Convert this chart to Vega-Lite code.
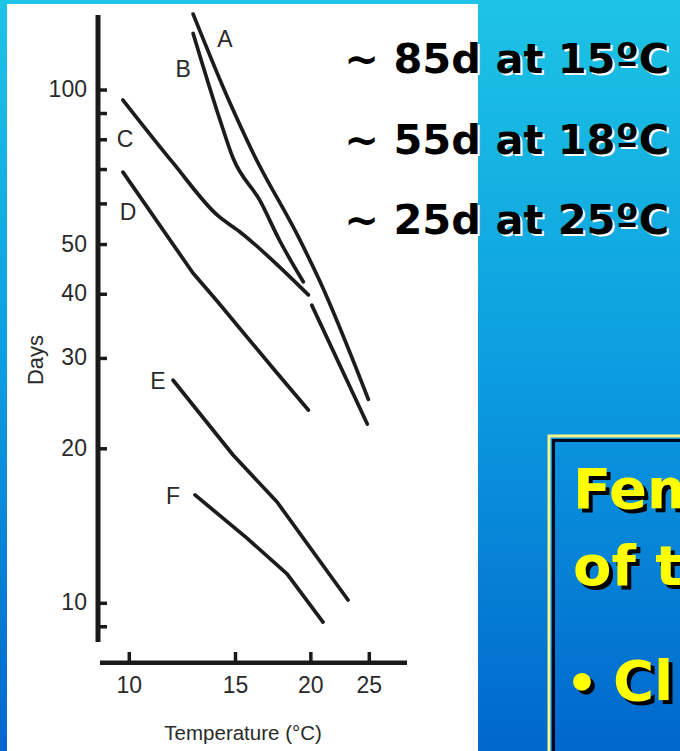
{
  "$schema": "https://vega.github.io/schema/vega-lite/v6.json",
  "width": 310,
  "height": 663,
  "padding": {"left": 98, "top": 0, "right": 272, "bottom": 88},
  "autosize": {"type": "none"},
  "background": "#ffffff",
  "config": {"view": {"stroke": null}, "axis": {"disable": true}},
  "datasets": {
    "one": [{}],
    "curves": [
      {"curve": "A", "T": 12.76, "D": 140.6},
      {"curve": "A", "T": 14.69, "D": 94.3},
      {"curve": "A", "T": 16.04, "D": 75.4},
      {"curve": "A", "T": 19.19, "D": 51.0},
      {"curve": "A", "T": 20.72, "D": 42.3},
      {"curve": "A", "T": 24.91, "D": 24.97},
      {"curve": "B", "T": 12.76, "D": 128.9},
      {"curve": "B", "T": 14.14, "D": 87.4},
      {"curve": "B", "T": 14.86, "D": 73.7},
      {"curve": "B", "T": 16.48, "D": 60.8},
      {"curve": "B", "T": 17.77, "D": 50.8},
      {"curve": "B", "T": 19.43, "D": 42.3},
      {"curve": "B (cont.)", "T": 20.07, "D": 38.1},
      {"curve": "B (cont.)", "T": 24.81, "D": 22.35},
      {"curve": "C", "T": 9.76, "D": 95.6},
      {"curve": "C", "T": 11.82, "D": 72.1},
      {"curve": "C", "T": 13.98, "D": 57.1},
      {"curve": "C", "T": 15.26, "D": 52.9},
      {"curve": "C", "T": 19.81, "D": 39.9},
      {"curve": "D", "T": 9.76, "D": 69.2},
      {"curve": "D", "T": 12.75, "D": 44.0},
      {"curve": "D", "T": 13.98, "D": 38.8},
      {"curve": "D", "T": 17.31, "D": 28.7},
      {"curve": "D", "T": 19.81, "D": 23.8},
      {"curve": "E", "T": 11.82, "D": 27.2},
      {"curve": "E", "T": 14.86, "D": 19.45},
      {"curve": "E", "T": 17.58, "D": 15.75},
      {"curve": "E", "T": 23.05, "D": 10.15},
      {"curve": "F", "T": 12.85, "D": 16.26},
      {"curve": "F", "T": 15.67, "D": 13.4},
      {"curve": "F", "T": 18.26, "D": 11.41},
      {"curve": "F", "T": 20.95, "D": 9.19}
    ],
    "letters": [
      {"label": "A", "T": 14.41, "D": 125.2},
      {"label": "B", "T": 12.28, "D": 109.4},
      {"label": "C", "T": 9.84, "D": 79.9},
      {"label": "D", "T": 9.95, "D": 57.6},
      {"label": "E", "T": 11.16, "D": 27.0},
      {"label": "F", "T": 11.82, "D": 16.11}
    ],
    "dayTicks": [
      {"value": 9, "label": ""},
      {"value": 10, "label": "10"},
      {"value": 20, "label": "20"},
      {"value": 30, "label": "30"},
      {"value": 40, "label": "40"},
      {"value": 50, "label": "50"},
      {"value": 60, "label": ""},
      {"value": 70, "label": ""},
      {"value": 80, "label": ""},
      {"value": 90, "label": ""},
      {"value": 100, "label": "100"}
    ],
    "tempTicks": [
      {"value": 10, "label": "10"},
      {"value": 15, "label": "15"},
      {"value": 20, "label": "20"},
      {"value": 25, "label": "25"}
    ]
  },
  "layer": [
    {
      "data": {"name": "one"},
      "mark": {"type": "rect", "color": {"gradient": "linear", "x1": 0, "y1": 0, "x2": 0, "y2": 1, "stops": [{"offset": 0, "color": "#1dc4e5"}, {"offset": 0.5, "color": "#0c9ce0"}, {"offset": 1, "color": "#0066cc"}]}},
      "encoding": {
        "x": {"datum": 6.0, "type": "quantitative", "scale": {"type": "log", "domain": [8.874, 28.98], "nice": false}, "axis": null},
        "x2": {"datum": 6.27},
        "y": {"datum": 152, "type": "quantitative", "scale": {"type": "log", "domain": [7.65, 149.76], "nice": false}, "axis": null},
        "y2": {"datum": 5.0}
      }
    },
    {
      "data": {"name": "one"},
      "mark": {"type": "rect", "color": "#1dc4e5"},
      "encoding": {
        "x": {"datum": 6.0, "type": "quantitative", "scale": {"type": "log", "domain": [8.874, 28.98], "nice": false}, "axis": null},
        "x2": {"datum": 90},
        "y": {"datum": 152, "type": "quantitative", "scale": {"type": "log", "domain": [7.65, 149.76], "nice": false}, "axis": null},
        "y2": {"datum": 147.1}
      }
    },
    {
      "data": {"name": "one"},
      "mark": {"type": "rect", "color": {"gradient": "linear", "x1": 0, "y1": 0, "x2": 0, "y2": 1, "stops": [{"offset": 0, "color": "#1dc4e5"}, {"offset": 0.5, "color": "#0c9ce0"}, {"offset": 1, "color": "#0066cc"}]}},
      "encoding": {
        "x": {"datum": 37.86, "type": "quantitative", "scale": {"type": "log", "domain": [8.874, 28.98], "nice": false}, "axis": null},
        "x2": {"datum": 90},
        "y": {"datum": 152, "type": "quantitative", "scale": {"type": "log", "domain": [7.65, 149.76], "nice": false}, "axis": null},
        "y2": {"datum": 5.0}
      }
    },
    {
      "data": {"name": "one"},
      "mark": {"type": "rule", "color": "#1a1a1a", "strokeWidth": 5},
      "encoding": {
        "x": {"datum": 8.874, "type": "quantitative", "scale": {"type": "log", "domain": [8.874, 28.98], "nice": false}, "axis": null},
        "y": {"datum": 140.0, "type": "quantitative", "scale": {"type": "log", "domain": [7.65, 149.76], "nice": false}, "axis": null},
        "y2": {"datum": 8.406}
      }
    },
    {
      "data": {"name": "one"},
      "mark": {"type": "rule", "color": "#1a1a1a", "strokeWidth": 4.5},
      "encoding": {
        "x": {"datum": 8.94, "type": "quantitative", "scale": {"type": "log", "domain": [8.874, 28.98], "nice": false}, "axis": null},
        "x2": {"datum": 28.87},
        "y": {"datum": 7.66, "type": "quantitative", "scale": {"type": "log", "domain": [7.65, 149.76], "nice": false}, "axis": null}
      }
    },
    {
      "data": {"name": "dayTicks"},
      "mark": {"type": "rule", "color": "#1a1a1a", "strokeWidth": 3.5},
      "encoding": {
        "x": {"datum": 8.874, "type": "quantitative", "scale": {"type": "log", "domain": [8.874, 28.98], "nice": false}, "axis": null},
        "x2": {"datum": 9.184},
        "y": {"field": "value", "type": "quantitative", "scale": {"type": "log", "domain": [7.65, 149.76], "nice": false}, "axis": null}
      }
    },
    {
      "data": {"name": "dayTicks"},
      "mark": {"type": "text", "font": "Liberation Sans", "fontSize": 23, "color": "#2a2a2a", "align": "right", "baseline": "middle"},
      "encoding": {
        "x": {"datum": 8.508, "type": "quantitative", "scale": {"type": "log", "domain": [8.874, 28.98], "nice": false}, "axis": null},
        "y": {"field": "value", "type": "quantitative", "scale": {"type": "log", "domain": [7.65, 149.76], "nice": false}, "axis": null},
        "text": {"field": "label", "type": "nominal"}
      }
    },
    {
      "data": {"name": "tempTicks"},
      "mark": {"type": "rule", "color": "#1a1a1a", "strokeWidth": 3.5},
      "encoding": {
        "x": {"field": "value", "type": "quantitative", "scale": {"type": "log", "domain": [8.874, 28.98], "nice": false}, "axis": null},
        "y": {"datum": 7.66, "type": "quantitative", "scale": {"type": "log", "domain": [7.65, 149.76], "nice": false}, "axis": null},
        "y2": {"datum": 8.036}
      }
    },
    {
      "data": {"name": "tempTicks"},
      "mark": {"type": "text", "font": "Liberation Sans", "fontSize": 23, "color": "#2a2a2a", "align": "center", "baseline": "middle"},
      "encoding": {
        "x": {"field": "value", "type": "quantitative", "scale": {"type": "log", "domain": [8.874, 28.98], "nice": false}, "axis": null},
        "y": {"datum": 6.902, "type": "quantitative", "scale": {"type": "log", "domain": [7.65, 149.76], "nice": false}, "axis": null},
        "text": {"field": "label", "type": "nominal"}
      }
    },
    {
      "data": {"name": "one"},
      "mark": {"type": "text", "text": "Temperature (°C)", "font": "Liberation Sans", "fontSize": 20.5, "color": "#2a2a2a", "align": "center", "baseline": "alphabetic"},
      "encoding": {
        "x": {"datum": 15.44, "type": "quantitative", "scale": {"type": "log", "domain": [8.874, 28.98], "nice": false}, "axis": null},
        "y": {"datum": 5.416, "type": "quantitative", "scale": {"type": "log", "domain": [7.65, 149.76], "nice": false}, "axis": null}
      }
    },
    {
      "data": {"name": "one"},
      "mark": {"type": "text", "text": "Days", "font": "Liberation Sans", "fontSize": 22, "color": "#2a2a2a", "align": "center", "baseline": "alphabetic", "angle": 270},
      "encoding": {
        "x": {"datum": 7.193, "type": "quantitative", "scale": {"type": "log", "domain": [8.874, 28.98], "nice": false}, "axis": null},
        "y": {"datum": 29.79, "type": "quantitative", "scale": {"type": "log", "domain": [7.65, 149.76], "nice": false}, "axis": null}
      }
    },
    {
      "data": {"name": "curves"},
      "transform": [{"filter": {"field": "curve", "oneOf": ["A", "B", "B (cont.)", "C"]}}],
      "mark": {"type": "line", "color": "#1c1c1c", "strokeWidth": 3.7, "strokeCap": "round", "strokeJoin": "round", "interpolate": "monotone"},
      "encoding": {
        "x": {"field": "T", "type": "quantitative", "scale": {"type": "log", "domain": [8.874, 28.98], "nice": false}, "axis": null},
        "y": {"field": "D", "type": "quantitative", "scale": {"type": "log", "domain": [7.65, 149.76], "nice": false}, "axis": null},
        "detail": {"field": "curve", "type": "nominal"}
      }
    },
    {
      "data": {"name": "curves"},
      "transform": [{"filter": {"field": "curve", "oneOf": ["D", "E", "F"]}}],
      "mark": {"type": "line", "color": "#1c1c1c", "strokeWidth": 3.7, "strokeCap": "round", "strokeJoin": "round"},
      "encoding": {
        "x": {"field": "T", "type": "quantitative", "scale": {"type": "log", "domain": [8.874, 28.98], "nice": false}, "axis": null},
        "y": {"field": "D", "type": "quantitative", "scale": {"type": "log", "domain": [7.65, 149.76], "nice": false}, "axis": null},
        "detail": {"field": "curve", "type": "nominal"}
      }
    },
    {
      "data": {"name": "letters"},
      "mark": {"type": "text", "font": "Liberation Sans", "fontSize": 23, "color": "#2a2a2a", "align": "center", "baseline": "middle"},
      "encoding": {
        "x": {"field": "T", "type": "quantitative", "scale": {"type": "log", "domain": [8.874, 28.98], "nice": false}, "axis": null},
        "y": {"field": "D", "type": "quantitative", "scale": {"type": "log", "domain": [7.65, 149.76], "nice": false}, "axis": null},
        "text": {"field": "label", "type": "nominal"}
      }
    },
    {
      "data": {"name": "one"},
      "mark": {"type": "text", "text": ["~ 85d at 15ºC", "~ 55d at 18ºC", "~ 25d at 25ºC"], "lineHeight": 80.5, "font": "DejaVu Sans", "fontWeight": "bold", "fontSize": 41.5, "color": "#ffffff", "align": "left", "baseline": "alphabetic", "dx": 2, "dy": 2},
      "encoding": {
        "x": {"datum": 22.72, "type": "quantitative", "scale": {"type": "log", "domain": [8.874, 28.98], "nice": false}, "axis": null},
        "y": {"datum": 107.9, "type": "quantitative", "scale": {"type": "log", "domain": [7.65, 149.76], "nice": false}, "axis": null}
      }
    },
    {
      "data": {"name": "one"},
      "mark": {"type": "text", "text": ["~ 85d at 15ºC", "~ 55d at 18ºC", "~ 25d at 25ºC"], "lineHeight": 80.5, "font": "DejaVu Sans", "fontWeight": "bold", "fontSize": 41.5, "color": "#000000", "align": "left", "baseline": "alphabetic"},
      "encoding": {
        "x": {"datum": 22.72, "type": "quantitative", "scale": {"type": "log", "domain": [8.874, 28.98], "nice": false}, "axis": null},
        "y": {"datum": 107.9, "type": "quantitative", "scale": {"type": "log", "domain": [7.65, 149.76], "nice": false}, "axis": null}
      }
    },
    {
      "data": {"name": "one"},
      "mark": {"type": "rect", "fill": null, "fillOpacity": 0, "stroke": "#f6f68a", "strokeWidth": 3},
      "encoding": {
        "x": {"datum": 49.65, "type": "quantitative", "scale": {"type": "log", "domain": [8.874, 28.98], "nice": false}, "axis": null},
        "x2": {"datum": 100},
        "y": {"datum": 21.18, "type": "quantitative", "scale": {"type": "log", "domain": [7.65, 149.76], "nice": false}, "axis": null},
        "y2": {"datum": 4.5}
      }
    },
    {
      "data": {"name": "one"},
      "mark": {"type": "rect", "fill": null, "fillOpacity": 0, "stroke": "#000820", "strokeWidth": 3},
      "encoding": {
        "x": {"datum": 50.51, "type": "quantitative", "scale": {"type": "log", "domain": [8.874, 28.98], "nice": false}, "axis": null},
        "x2": {"datum": 100},
        "y": {"datum": 20.76, "type": "quantitative", "scale": {"type": "log", "domain": [7.65, 149.76], "nice": false}, "axis": null},
        "y2": {"datum": 4.5}
      }
    },
    {
      "data": {"name": "one"},
      "mark": {"type": "text", "text": ["Fem", "of th"], "lineHeight": 77, "font": "DejaVu Sans", "fontWeight": "bold", "fontSize": 56, "color": "#000000", "align": "left", "baseline": "alphabetic", "dx": 4, "dy": 4},
      "encoding": {
        "x": {"datum": 54.41, "type": "quantitative", "scale": {"type": "log", "domain": [8.874, 28.98], "nice": false}, "axis": null},
        "y": {"datum": 15.33, "type": "quantitative", "scale": {"type": "log", "domain": [7.65, 149.76], "nice": false}, "axis": null}
      }
    },
    {
      "data": {"name": "one"},
      "mark": {"type": "text", "text": ["Fem", "of th"], "lineHeight": 77, "font": "DejaVu Sans", "fontWeight": "bold", "fontSize": 56, "color": "#ffff00", "align": "left", "baseline": "alphabetic"},
      "encoding": {
        "x": {"datum": 54.41, "type": "quantitative", "scale": {"type": "log", "domain": [8.874, 28.98], "nice": false}, "axis": null},
        "y": {"datum": 15.33, "type": "quantitative", "scale": {"type": "log", "domain": [7.65, 149.76], "nice": false}, "axis": null}
      }
    },
    {
      "data": {"name": "one"},
      "mark": {"type": "text", "text": "•", "font": "DejaVu Sans", "fontWeight": "bold", "fontSize": 50, "color": "#000000", "align": "center", "baseline": "alphabetic", "dx": 4, "dy": 4},
      "encoding": {
        "x": {"datum": 56.31, "type": "quantitative", "scale": {"type": "log", "domain": [8.874, 28.98], "nice": false}, "axis": null},
        "y": {"datum": 6.479, "type": "quantitative", "scale": {"type": "log", "domain": [7.65, 149.76], "nice": false}, "axis": null}
      }
    },
    {
      "data": {"name": "one"},
      "mark": {"type": "text", "text": "•", "font": "DejaVu Sans", "fontWeight": "bold", "fontSize": 50, "color": "#ffff00", "align": "center", "baseline": "alphabetic"},
      "encoding": {
        "x": {"datum": 56.31, "type": "quantitative", "scale": {"type": "log", "domain": [8.874, 28.98], "nice": false}, "axis": null},
        "y": {"datum": 6.479, "type": "quantitative", "scale": {"type": "log", "domain": [7.65, 149.76], "nice": false}, "axis": null}
      }
    },
    {
      "data": {"name": "one"},
      "mark": {"type": "text", "text": "Cl", "font": "DejaVu Sans", "fontWeight": "bold", "fontSize": 56, "color": "#000000", "align": "left", "baseline": "alphabetic", "dx": 4, "dy": 4},
      "encoding": {
        "x": {"datum": 63.39, "type": "quantitative", "scale": {"type": "log", "domain": [8.874, 28.98], "nice": false}, "axis": null},
        "y": {"datum": 6.479, "type": "quantitative", "scale": {"type": "log", "domain": [7.65, 149.76], "nice": false}, "axis": null}
      }
    },
    {
      "data": {"name": "one"},
      "mark": {"type": "text", "text": "Cl", "font": "DejaVu Sans", "fontWeight": "bold", "fontSize": 56, "color": "#ffff00", "align": "left", "baseline": "alphabetic"},
      "encoding": {
        "x": {"datum": 63.39, "type": "quantitative", "scale": {"type": "log", "domain": [8.874, 28.98], "nice": false}, "axis": null},
        "y": {"datum": 6.479, "type": "quantitative", "scale": {"type": "log", "domain": [7.65, 149.76], "nice": false}, "axis": null}
      }
    }
  ]
}
